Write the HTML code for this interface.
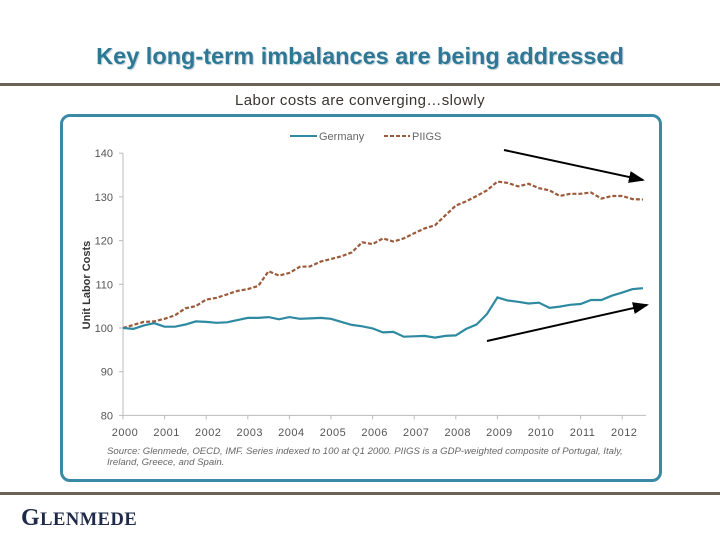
<!DOCTYPE html>
<html><head><meta charset="utf-8"><style>
body{margin:0;width:720px;height:540px;background:#fff;position:relative;overflow:hidden;font-family:"Liberation Sans",sans-serif}
.abs{position:absolute}
</style></head><body>
<div class="abs" style="left:0;width:720px;top:43px;text-align:center;font-size:23.5px;font-weight:bold;color:#2e7896;text-shadow:1px 1px 1px #b8c8d0">Key long-term imbalances are being addressed</div>
<div class="abs" style="left:0;top:83px;width:720px;height:3px;background:#6b6258"></div>
<div class="abs" style="left:0;width:720px;top:92px;text-align:center;font-size:15px;letter-spacing:0.4px;color:#3a3430">Labor costs are converging…slowly</div>
<div class="abs" style="left:60px;top:114px;width:596px;height:362px;border:3px solid #3a8aa6;border-radius:10px"></div>
<div class="abs" style="left:0;top:492px;width:720px;height:3px;background:#6b6258"></div>
<div class="abs" style="left:21px;top:505px;font-family:'Liberation Serif',serif;font-weight:bold;font-size:24px;color:#1f2a4a;letter-spacing:0.5px">G<span style="font-size:18.5px">LENMEDE</span></div>
<svg class="abs" style="left:0;top:0" width="720" height="540">
<g id="g"></g>
</svg>
<script>
const years=["2000","2001","2002","2003","2004","2005","2006","2007","2008","2009","2010","2011","2012"];
const yTicks=[80,90,100,110,120,130,140];
const germany=[100,99.8,100.6,101.1,100.3,100.3,100.8,101.5,101.4,101.2,101.3,101.8,102.3,102.3,102.5,102.0,102.5,102.1,102.2,102.3,102.1,101.4,100.7,100.4,99.9,99.0,99.1,98.0,98.1,98.2,97.8,98.2,98.3,99.8,100.8,103.2,107.0,106.3,106.0,105.6,105.8,104.6,104.9,105.3,105.5,106.4,106.4,107.4,108.1,108.9,109.1];
const piigs=[100,100.7,101.4,101.5,102.1,102.9,104.5,105.0,106.5,106.9,107.7,108.5,108.9,109.6,113.0,112.0,112.6,114.0,114.1,115.2,115.8,116.4,117.3,119.6,119.2,120.5,119.8,120.5,121.7,122.8,123.5,125.8,128.0,129.0,130.2,131.5,133.5,133.2,132.4,133.0,132.0,131.5,130.2,130.7,130.7,131.0,129.6,130.2,130.2,129.5,129.4];
const NS="http://www.w3.org/2000/svg";
const g=document.getElementById('g');
const X=t=>123+t*41.6;
const Y=v=>328-(v-100)*4.37;
function el(tag,attrs,txt){const e=document.createElementNS(NS,tag);for(const k in attrs)e.setAttribute(k,attrs[k]);if(txt!==undefined)e.textContent=txt;g.appendChild(e);return e;}
let e=el('line',{x1:123,y1:Y(140),x2:123,y2:Y(80),stroke:'#bbb'});

e=el('line',{x1:123,y1:Y(80),x2:646,y2:Y(80),stroke:'#bbb'});

yTicks.forEach(v=>{
 const t=el('text',{x:113,y:Y(v)+4,'text-anchor':'end','font-size':11,fill:'#555','font-family':'Liberation Sans'},String(v));
 
 el('line',{x1:119,x2:123,y1:Y(v),y2:Y(v),stroke:'#bbb'});
});
years.forEach((y,i)=>{
 const t=el('text',{x:X(i)+2,y:436,'text-anchor':'middle','font-size':11,fill:'#555','font-family':'Liberation Sans','letter-spacing':'0.5'},y);
 
 el('line',{x1:X(i),x2:X(i),y1:Y(80),y2:Y(80)+4,stroke:'#bbb'});
});
const yl=el('text',{x:0,y:0,transform:'translate(90,285) rotate(-90)','text-anchor':'middle','font-size':11,'font-weight':'bold',fill:'#333'},'Unit Labor Costs');

function pts(a){return a.map((v,i)=>X(i/4).toFixed(1)+','+Y(v).toFixed(1)).join(' ');}
const pl=el('polyline',{points:pts(piigs),fill:'none',stroke:'#9b5a3a','stroke-width':2.2,'stroke-dasharray':'4,2'});

const gl=el('polyline',{points:pts(germany),fill:'none',stroke:'#2e8aa0','stroke-width':2.2});

e=el('line',{x1:290,x2:317,y1:136,y2:136,stroke:'#2e8aa0','stroke-width':2});

e=el('text',{x:319,y:140,'font-size':11,fill:'#666'},'Germany');

e=el('line',{x1:384,x2:410,y1:136,y2:136,stroke:'#9b5a3a','stroke-width':2,'stroke-dasharray':'4,2'});

e=el('text',{x:412,y:140,'font-size':11,fill:'#666'},'PIIGS');

e=el('text',{x:107,y:454,'font-size':9.6,'font-style':'italic',fill:'#666'},'Source: Glenmede, OECD, IMF.  Series indexed to 100 at Q1 2000. PIIGS is a GDP-weighted composite of Portugal, Italy,');

e=el('text',{x:107,y:465,'font-size':9.6,'font-style':'italic',fill:'#666'},'Ireland, Greece, and Spain.');

el('defs',{}).innerHTML='<marker id="ah" markerWidth="8" markerHeight="6" refX="7" refY="3" orient="auto"><path d="M0,0 L8,3 L0,6 z" fill="#000"/></marker>';
e=el('line',{x1:504,y1:150,x2:643,y2:180,stroke:'#000','stroke-width':2,'marker-end':'url(#ah)'});

e=el('line',{x1:487,y1:341,x2:647,y2:305,stroke:'#000','stroke-width':2,'marker-end':'url(#ah)'});

</script>
</body></html>
